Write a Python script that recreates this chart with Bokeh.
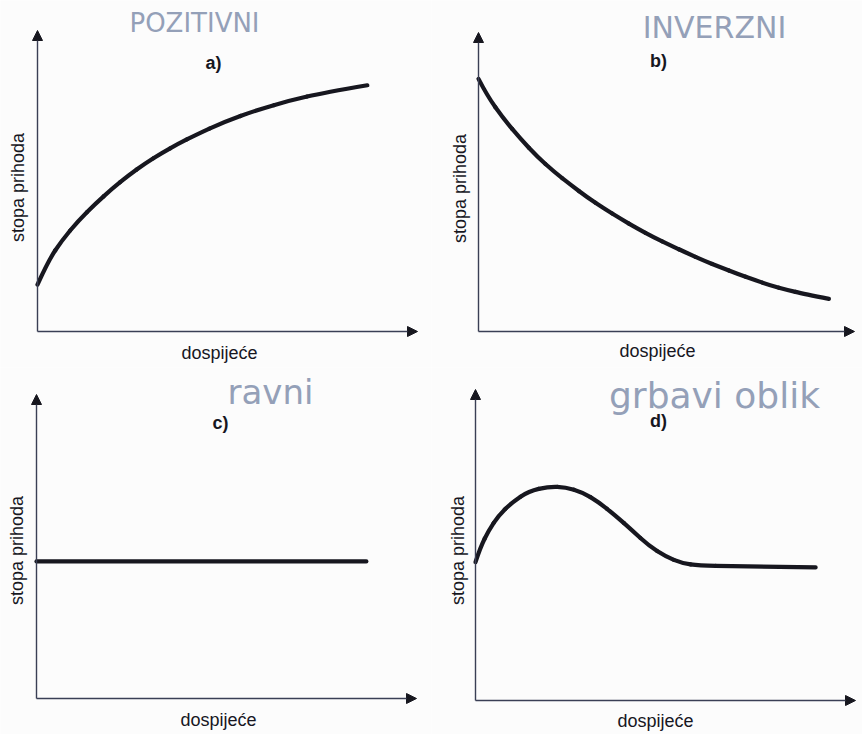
from bokeh.plotting import figure
from bokeh.models import Range1d, Arrow, NormalHead, Label
from bokeh.layouts import column, row
from bokeh.embed import file_html
from bokeh.resources import INLINE
import math

# --- curve data (maturity on x, yield on y, both on a 0..10 schematic scale) ---
a_maturity = [0.0, 0.29, 0.64, 1.08, 1.52, 1.96, 2.39, 2.83, 3.27, 3.71, 4.15,
              4.90, 5.78, 6.66, 7.53, 8.68]
a_yield = [1.56, 2.36, 3.02, 3.69, 4.24, 4.74, 5.18, 5.58, 5.93, 6.24, 6.52,
           6.96, 7.36, 7.68, 7.93, 8.18]

b_maturity = [0.0, 0.23, 0.67, 1.12, 1.56, 2.00, 2.45, 2.89, 3.33, 3.78, 4.22,
              4.66, 5.11, 5.55, 5.99, 6.44, 6.88, 7.33, 7.77, 8.21, 8.65, 9.32]
b_yield = [8.45, 7.89, 7.11, 6.44, 5.85, 5.35, 4.91, 4.49, 4.12, 3.77, 3.45,
           3.15, 2.88, 2.62, 2.37, 2.15, 1.93, 1.73, 1.54, 1.39, 1.26, 1.09]

c_maturity = [0.0, 8.68]
c_yield = [4.51, 4.51]

d_maturity = [0.0, 0.13, 0.35, 0.61, 0.97, 1.40, 1.93, 2.37, 2.81, 3.24, 3.68,
              4.12, 4.56, 5.00, 5.44, 5.88, 6.76, 8.95]
d_yield = [4.45, 4.93, 5.47, 5.95, 6.38, 6.73, 6.88, 6.86, 6.70, 6.38, 5.95,
           5.47, 4.98, 4.63, 4.41, 4.34, 4.32, 4.28]

panel_titles = ["a)", "b)", "c)", "d)"]
notes = ["POZITIVNI", "INVERZNI", "ravni", "grbavi oblik"]
x_label = "dospijeće"
y_label = "stopa prihoda"

W, H = 431, 367
BG = "#fcfcfc"
INK = "#17171f"
AXIS = "#3a3f55"
NOTE = "#94a0b8"
FONT = "Liberation Sans"
NOTE_FONT = "DejaVu Sans"


def smooth_segments(xs, ys):
    """Quadratic pieces through the midpoints, with the points as control handles."""
    n = len(xs)
    if n < 3:
        return None
    mx = [(xs[i] + xs[i + 1]) / 2 for i in range(n - 1)]
    my = [(ys[i] + ys[i + 1]) / 2 for i in range(n - 1)]
    x0 = [xs[0]] + mx[1:-1]
    y0 = [ys[0]] + my[1:-1]
    x1 = mx[1:-1] + [xs[-1]]
    y1 = my[1:-1] + [ys[-1]]
    cx = xs[1:-1]
    cy = ys[1:-1]
    return dict(x0=x0, y0=y0, x1=x1, y1=y1, cx=cx, cy=cy)


def make_panel(geom, mx, my, title, note, note_pos, note_size):
    ox, oy, xt, yt, title_pos, ylab_pos, xlab_pos = geom
    sx = (xt - ox) / 10.0
    sy = (oy - yt) / 10.0
    p = figure(width=W, height=H, output_backend="svg", toolbar_location=None,
               x_axis_type=None, y_axis_type=None, title=None,
               x_range=Range1d(-ox / sx, (W - ox) / sx),
               y_range=Range1d(-(H - oy) / sy, oy / sy),
               min_border=0, outline_line_color=None,
               background_fill_color=BG, border_fill_color=BG)
    p.grid.visible = False

    def to_data(px, py):
        return (px - ox) / sx, (oy - py) / sy

    # axes drawn as arrows from the origin
    for xe, ye in [(0, 10), (10, 0)]:
        p.add_layout(Arrow(end=NormalHead(size=10, fill_color=INK, line_color=INK),
                           x_start=0, y_start=0, x_end=xe, y_end=ye,
                           line_color=AXIS, line_width=1.4))

    seg = smooth_segments(mx, my)
    if seg is None:
        p.line(mx, my, line_width=4.2, line_color=INK, line_cap="round")
    else:
        p.quadratic(line_width=4.2, line_color=INK, line_cap="round", **seg)

    tx, ty = to_data(*title_pos)
    p.add_layout(Label(x=tx, y=ty, text=title, text_font=FONT, text_font_size="18px",
                       text_font_style="bold", text_color=INK,
                       text_align="center", text_baseline="middle"))
    lx, ly = to_data(*ylab_pos)
    p.add_layout(Label(x=lx, y=ly, text=y_label, text_font=FONT, text_font_size="18px",
                       text_color=INK, angle=math.pi / 2,
                       text_align="center", text_baseline="middle"))
    xx, xy = to_data(*xlab_pos)
    p.add_layout(Label(x=xx, y=xy, text=x_label, text_font=FONT, text_font_size="18px",
                       text_color=INK, text_align="center", text_baseline="middle"))
    nx, ny = to_data(*note_pos)
    p.add_layout(Label(x=nx, y=ny, text=note, text_font=NOTE_FONT, text_font_size=note_size,
                       text_color=NOTE, text_align="center", text_baseline="middle"))
    return p


# origin x, origin y, x-axis tip, y-axis tip, title, y label, x label (panel pixels)
geoms = [
    (37, 331, 417, 30, (213, 62), (17, 187), (219, 352)),
    (47, 331, 423, 32, (227, 60), (28, 188), (226, 350)),
    (36, 331, 416, 27, (220, 55), (16, 183), (218, 352)),
    (44, 333, 424, 22, (227, 53), (26, 183), (224, 353)),
]
note_pos = [(194, 22), (283, 27), (270, 24), (283, 28)]
note_size = ["26px", "30px", "34px", "36px"]
series = [(a_maturity, a_yield), (b_maturity, b_yield),
          (c_maturity, c_yield), (d_maturity, d_yield)]

panels = [make_panel(g, s[0], s[1], t, n, npos, nsz)
          for g, s, t, n, npos, nsz in zip(geoms, series, panel_titles, notes, note_pos, note_size)]

layout = column(row(panels[0], panels[1], spacing=0),
                row(panels[2], panels[3], spacing=0), spacing=0)

open("out.html", "w").write(file_html(layout, INLINE))
